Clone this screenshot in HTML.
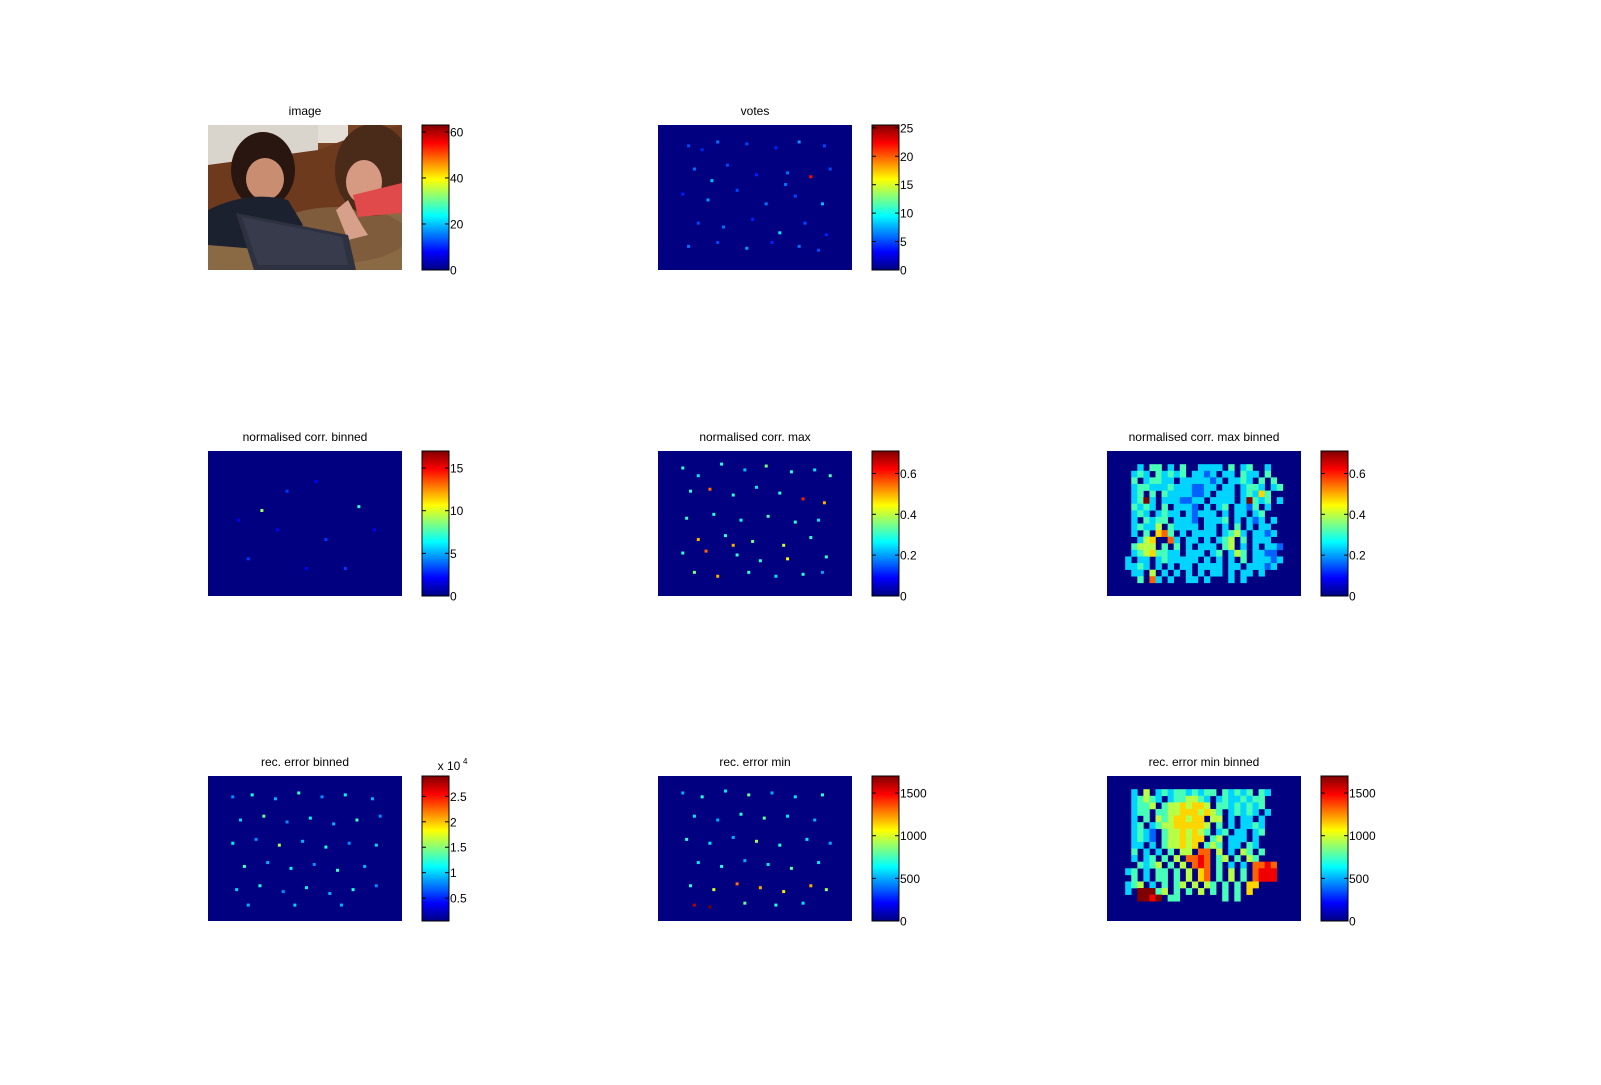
<!DOCTYPE html>
<html><head><meta charset="utf-8">
<style>
html,body{margin:0;padding:0;background:#fff;}
svg{display:block;font-family:"Liberation Sans",sans-serif;}
</style></head>
<body>
<svg id="fig" width="1601" height="1085" viewBox="0 0 1601 1085">
<defs>
<linearGradient id="jet" x1="0" y1="1" x2="0" y2="0"></linearGradient>
<clipPath id="photoClip"><rect x="0" y="0" width="194" height="145"/></clipPath>
</defs>
<g id="photo" transform="translate(208,125)">
  <g clip-path="url(#photoClip)">
  <rect x="0" y="0" width="194" height="145" fill="#7a4426"/>
  <rect x="0" y="0" width="110" height="40" fill="#d9d4cc"/>
  <rect x="110" y="0" width="30" height="18" fill="#e4e0d8"/>
  <polygon points="0,40 110,25 150,10 194,0 194,90 0,110" fill="#6e3a1d"/>
  <polygon points="0,100 194,85 194,145 0,145" fill="#8a6a45"/>
  <ellipse cx="130" cy="110" rx="70" ry="28" fill="#7e5c3c"/>
  <ellipse cx="55" cy="45" rx="32" ry="38" fill="#2a1610"/>
  <ellipse cx="57" cy="54" rx="19" ry="21" fill="#c98e72"/>
  <path d="M0,85 Q40,65 80,75 L95,100 L60,125 L0,120 Z" fill="#1c2130"/>
  <ellipse cx="165" cy="45" rx="38" ry="46" fill="#4a2a18"/>
  <ellipse cx="156" cy="57" rx="18" ry="22" fill="#d69a82"/>
  <path d="M145,70 L194,58 L194,88 L150,92 Z" fill="#e04a4a"/>
  <path d="M140,75 Q150,95 160,110 L140,115 L128,85 Z" fill="#d6a08a"/>
  <polygon points="28,88 140,110 148,145 46,145" fill="#2e3140"/>
  <polygon points="34,92 134,112 140,140 50,140" fill="#383b4c"/>
  </g>
</g>
<g id="panels"></g>
</svg>
<script>
// ---------- data ----------
const titles = ["image","votes","normalised corr. binned","normalised corr. max","normalised corr. max binned","rec. error binned","rec. error min","rec. error min binned"];
const cbMin = [0,0,0,0,0,0.05,0,0];
const cbMax = [63,25.5,17,0.71,0.71,2.9,1700,1700];
const cbTicks = [[0,20,40,60],[0,5,10,15,20,25],[0,5,10,15],[0,0.2,0.4,0.6],[0,0.2,0.4,0.6],[0.5,1,1.5,2,2.5],[0,500,1000,1500],[0,500,1000,1500]];
const panelCol = [0,1,0,1,2,0,1,2];
const panelRow = [0,0,1,1,1,2,2,2];
// sparse maps: points [x(0-100), y(0-75), value]
const votesPts = [[15,10,5],[22,12,4],[30,8,6],[45,9,5],[60,11,4],[72,8,7],[85,10,5],[18,22,6],[35,20,5],[50,25,4],[66,24,6],[78,26,22],[88,22,5],[12,35,4],[25,38,7],[40,33,5],[55,40,6],[70,36,5],[84,40,8],[20,50,5],[33,52,6],[48,48,4],[62,55,9],[75,50,5],[86,56,4],[15,62,6],[30,60,5],[45,63,7],[58,60,4],[72,62,6],[82,64,5],[27,28,8],[65,30,6]];
const corrBinPts = [[27,30,9],[77,28,7],[40,20,3],[60,45,3],[20,55,3],[50,60,2],[70,60,3],[35,40,2],[85,40,2],[15,35,2],[55,15,2]];
const corrMaxPts = [[12,8,0.3],[20,12,0.25],[32,6,0.3],[44,9,0.22],[55,7,0.35],[68,10,0.3],[80,9,0.25],[88,12,0.32],[16,20,0.3],[26,19,0.55],[38,22,0.3],[50,18,0.25],[62,21,0.3],[74,24,0.6],[85,26,0.5],[14,34,0.3],[28,32,0.3],[42,35,0.28],[56,33,0.32],[70,36,0.3],[82,35,0.25],[20,45,0.5],[34,43,0.3],[48,46,0.35],[64,48,0.4],[78,44,0.3],[12,52,0.3],[24,51,0.55],[40,53,0.3],[52,56,0.3],[66,55,0.45],[86,54,0.3],[18,62,0.35],[30,64,0.5],[46,62,0.3],[60,64,0.25],[74,63,0.3],[84,62,0.2],[38,48,0.5]];
const recBinPts = [[12,10,0.8],[22,9,1.2],[34,11,0.9],[46,8,1.3],[58,10,0.8],[70,9,1.1],[84,11,0.9],[16,22,1.0],[28,20,1.4],[40,23,0.8],[52,21,1.1],[64,24,0.9],[76,22,1.3],[88,20,0.8],[12,34,1.1],[24,32,0.8],[36,35,1.6],[48,33,0.9],[60,36,1.2],[72,34,0.8],[86,35,1.0],[18,46,1.3],[30,44,0.9],[42,47,1.1],[54,45,0.8],[66,48,1.3],[80,46,0.9],[14,58,1.0],[26,56,1.2],[38,59,0.8],[50,57,1.1],[62,60,0.9],[74,58,1.2],[86,56,0.8],[20,66,0.9],[44,66,1.0],[68,66,0.9]];
const recMinPts = [[12,8,500],[22,10,700],[34,7,600],[46,9,800],[58,8,500],[70,10,600],[84,9,700],[18,20,600],[30,22,500],[42,19,700],[54,21,800],[66,20,600],[80,22,500],[14,32,700],[26,34,600],[38,31,500],[50,33,900],[62,35,700],[76,32,600],[88,34,500],[20,44,600],[32,46,700],[44,43,500],[56,45,600],[68,47,800],[82,44,600],[16,56,700],[28,58,1000],[40,55,1300],[52,57,1200],[64,59,1100],[78,56,1200],[86,58,900],[18,66,1600],[26,67,1700],[44,65,800],[60,66,700],[74,65,600]];
// binned maps: char grids, digit d -> d/9*max, '.' = 0
const corrMaxBinGrid = [
"................................",
"................................",
".....3.44.3.4..3333.4.34..3.....",
"....343.43434.3323.33.433.4.....",
"....4.34433.3333323.3343.4.4....",
"....34433343332233.33.3443.34...",
"....34.4.43333223.333.34364.....",
"....3493.3332233.3333.39434.3...",
"....4343.4.3332.3.34.3324.3.....",
"....343.3433.32333.3.33.34......",
"....3.4344.3332.3334.3.323.3....",
"....34335.43333.33.3.4.3.33.....",
"....3.4.674.3.3333.3453.3323....",
".....356..73.33.3.345.4.333.....",
"....4555.4.4.3.333.45.3.3.332...",
"....34564433.333.34.354.3322....",
"...3.33.3433333.3.3.3.4.33323...",
"...3343.3.3.33.3333.33.33323....",
"....33.5.3.3.3.3.33.3.33.3......",
".....4.73.3..33.3...3.3.........",
"................................",
"................................"];
const recMinBinGrid = [
"................................",
"................................",
"....3.5.3434434344.43434.43.....",
"....34543.3445543.34334344......",
"....3445.45565665.44343434......",
"....344.44556665654.34343.3.....",
"....3.4.54566566.55.3.33.3......",
"....34.3455666665.4.3.3343......",
"....3432.45565654.34.33.34......",
"....3432.4556566.45.333.3.......",
"....33.3.455656.454.33.43.......",
"....4.3.3.4.55.77.5.3.54.4......",
"....3.34.4.5.7787.45.4.54.......",
".....4345.4.5.787.4.3.3.7787....",
"...34.3.44.4.5.67.4.5.4.7888....",
"....4.3.44.4.5.67.4.5.4.7888....",
"...345.3.4.45.5.54.4.4.66.......",
"...3.99945.4.4.5.4.4.4.6........",
".....9989.44.......4.4..........",
"................................",
"................................",
"................................"];
// ---------- helpers ----------
const NS="http://www.w3.org/2000/svg";
const svg=document.getElementById('fig');
const panels=document.getElementById('panels');
function jet(t){t=Math.max(0,Math.min(1,t));
 const c=v=>Math.round(255*Math.max(0,Math.min(1,v)));
 return `rgb(${c(1.5-Math.abs(4*t-3))},${c(1.5-Math.abs(4*t-2))},${c(1.5-Math.abs(4*t-1))})`;}
function mk(tag,attrs,parent){const e=document.createElementNS(NS,tag);for(const k in attrs)e.setAttribute(k,attrs[k]);(parent||panels).appendChild(e);return e;}
const grad=document.getElementById('jet');
for(let i=0;i<=32;i++){mk('stop',{offset:(i/32),'stop-color':jet(i/32)},grad);}
const colX=[208,658,1107], rowY=[125,451,776], W=194, H=145;
function xScale(p,v){return colX[panelCol[p]]+v/100*W;}
function yScale(p,v){return rowY[panelRow[p]]+v/75*H;}
function tScale(p,v){return (v-cbMin[p])/(cbMax[p]-cbMin[p]);}
function drawPts(p,pts){
 for(const d of pts){
  const r=mk('rect',{x:xScale(p,d[0]),y:yScale(p,d[1]),width:3,height:3,fill:jet(tScale(p,d[2]))});
  
  
 }}
function drawGrid(p,grid){
 const rows=grid.length, cols=grid[0].length;
 for(let j=0;j<rows;j++)for(let i=0;i<cols;i++){
  const ch=grid[j][i]; if(ch==='.')continue;
  const v=(+ch)/9*cbMax[p];
  const r=mk('rect',{x:colX[panelCol[p]]+i*W/cols,y:rowY[panelRow[p]]+j*H/rows,width:W/cols+0.3,height:H/rows+0.3,fill:jet(tScale(p,v))});
  
  
 }}
for(let p=0;p<8;p++){
 const x0=colX[panelCol[p]], y0=rowY[panelRow[p]];
 const t=mk('text',{x:x0+W/2,y:y0-10,'text-anchor':'middle','font-size':12,fill:'#000'});
 t.textContent=titles[p];
 
 
 if(p>0){
  const bg=mk('rect',{x:x0,y:y0,width:W,height:H,fill:jet(0)});
  
  
 }
 const cx=x0+214, cw=27;
 const cb=mk('rect',{x:cx,y:y0,width:cw,height:H,fill:'url(#jet)',stroke:'#000','stroke-width':1});
 
 
 for(const v of cbTicks[p]){
  const y=y0+H-tScale(p,v)*H;
  mk('line',{x1:cx,x2:cx+4,y1:y,y2:y,stroke:'#000','stroke-width':1});
  mk('line',{x1:cx+cw-4,x2:cx+cw,y1:y,y2:y,stroke:'#000','stroke-width':1});
  const l=mk('text',{x:cx+cw+1,y:y+4.5,'font-size':12,fill:'#000'});
  l.textContent=String(v);
  
  
 }
 if(p===5){
  const e=mk('text',{x:cx+cw,y:y0-6,'font-size':12,fill:'#000','text-anchor':'middle'});
  e.textContent='x 10';
  
  
  const s=mk('text',{x:cx+cw+14,y:y0-12,'font-size':8,fill:'#000'});
  s.textContent='4';
  
  
 }
}
drawPts(1,votesPts);
drawPts(2,corrBinPts);
drawPts(3,corrMaxPts);
drawGrid(4,corrMaxBinGrid);
drawPts(5,recBinPts);
drawPts(6,recMinPts);
drawGrid(7,recMinBinGrid);
</script>
</body></html>
